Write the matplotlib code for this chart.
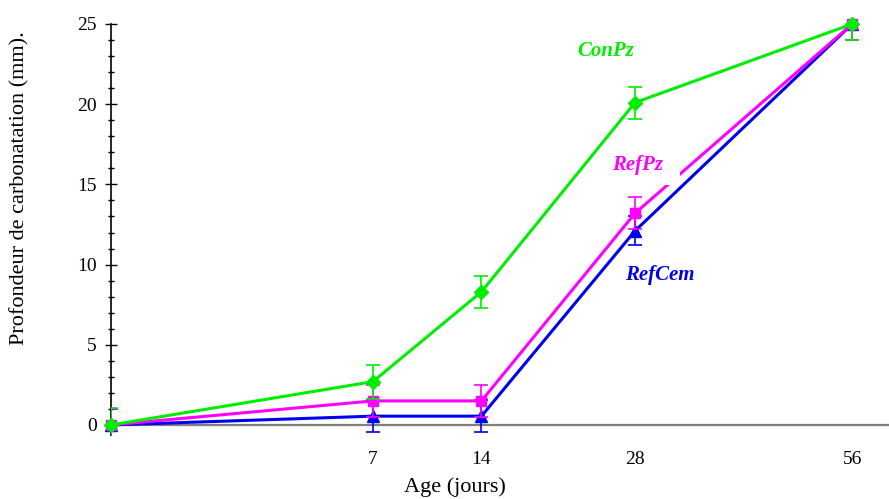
import numpy as np
import matplotlib.pyplot as plt
from matplotlib.patches import Rectangle
from matplotlib.ticker import MultipleLocator, FixedLocator

# carbonation depth (mm) versus age (days)
age = [0, 7, 14, 28, 56]
age_labels = ['', '7', '14', '28', '56']

ref_cem = [0, 0.55, 0.55, 12.1, 25]
ref_cem_err = [1.0, 1.0, 1.0, 0.9, 1.0]
ref_pz = [0, 1.5, 1.5, 13.2, 25]
ref_pz_err = [1.0, 1.0, 1.0, 1.0, 1.0]
con_pz = [0, 2.7, 8.3, 20.1, 25]
con_pz_err = [1.05, 1.05, 1.0, 1.0, 1.0]

series = [
    ('RefCem', ref_cem, ref_cem_err, '#0000ee', '^', 8),
    ('RefPz', ref_pz, ref_pz_err, '#ff00ff', 's', 7.2),
    ('ConPz', con_pz, con_pz_err, '#00ee00', 'D', 7.5),
]

plt.rcParams['font.family'] = ['Liberation Serif', 'DejaVu Serif']

W, H = 889, 499
fig = plt.figure(figsize=(W / 100, H / 100), dpi=100)
ax = fig.add_axes([110.7 / W, 1 - 434.6 / H, 1 - 110.7 / W, (434.6 - 24) / H])


def px(x, y):
    # pixel position (from top-left) to figure fraction
    return x / W, 1 - y / H


# square-root spacing along the age axis
ax.set_xscale('function', functions=(lambda v: np.sqrt(np.clip(v, 0, None)), lambda v: v ** 2))
ax.set_xlim(0, 61.7)
ax.set_ylim(-0.6, 25)

ax.axhline(0, color='#7f7f7f', lw=1.6, zorder=1)

for i, (name, vals, err, col, mk, ms) in enumerate(series):
    z = 3 + i
    ax.errorbar(age, vals, yerr=err, fmt='none', ecolor=col, elinewidth=1.2,
                capsize=5, capthick=1.2, zorder=z)
    ax.plot(age, vals, color=col, lw=2.2, marker=mk, ms=ms,
            mec=col, mfc=col, zorder=z + 0.5, clip_on=False)

lab = dict(fontsize=15, fontweight='bold', fontstyle='italic', ha='center', va='center',
           transform=fig.transFigure)
ax.text(*px(606, 51), 'ConPz', color='#00ee00', **lab)
# white backing behind the RefPz label, it cuts the magenta line
x0, y0 = px(606, 185)
x1, y1 = px(680, 150)
ax.add_patch(Rectangle((x0, y0), x1 - x0, y1 - y0, transform=fig.transFigure,
                       facecolor='white', edgecolor='none', zorder=6))
ax.text(*px(638, 165), 'RefPz', color='#ff00ff', zorder=10, **lab)
ax.text(*px(660, 275), 'RefCem', color='#0000ee', **lab)

for s in ['top', 'right', 'bottom']:
    ax.spines[s].set_visible(False)
ax.spines['left'].set_linewidth(1.2)

ax.yaxis.set_major_locator(MultipleLocator(5))
ax.yaxis.set_minor_locator(MultipleLocator(1))
ax.tick_params(axis='y', which='major', direction='inout', length=8, width=1, labelsize=14, pad=6)
ax.tick_params(axis='y', which='minor', direction='inout', length=5, width=1)
ax.xaxis.set_major_locator(FixedLocator(age))
ax.xaxis.set_minor_locator(FixedLocator([]))
ax.set_xticklabels(age_labels)
ax.tick_params(axis='x', length=0, labelsize=14, pad=12)

fig.text(*px(455, 487), 'Age (jours)', ha='center', va='center', fontsize=16)
fig.text(*px(20, 188), 'Profondeur de carbonatation (mm).', rotation=90,
         ha='center', va='center', fontsize=16)

fig.savefig('out.png', dpi=100)
